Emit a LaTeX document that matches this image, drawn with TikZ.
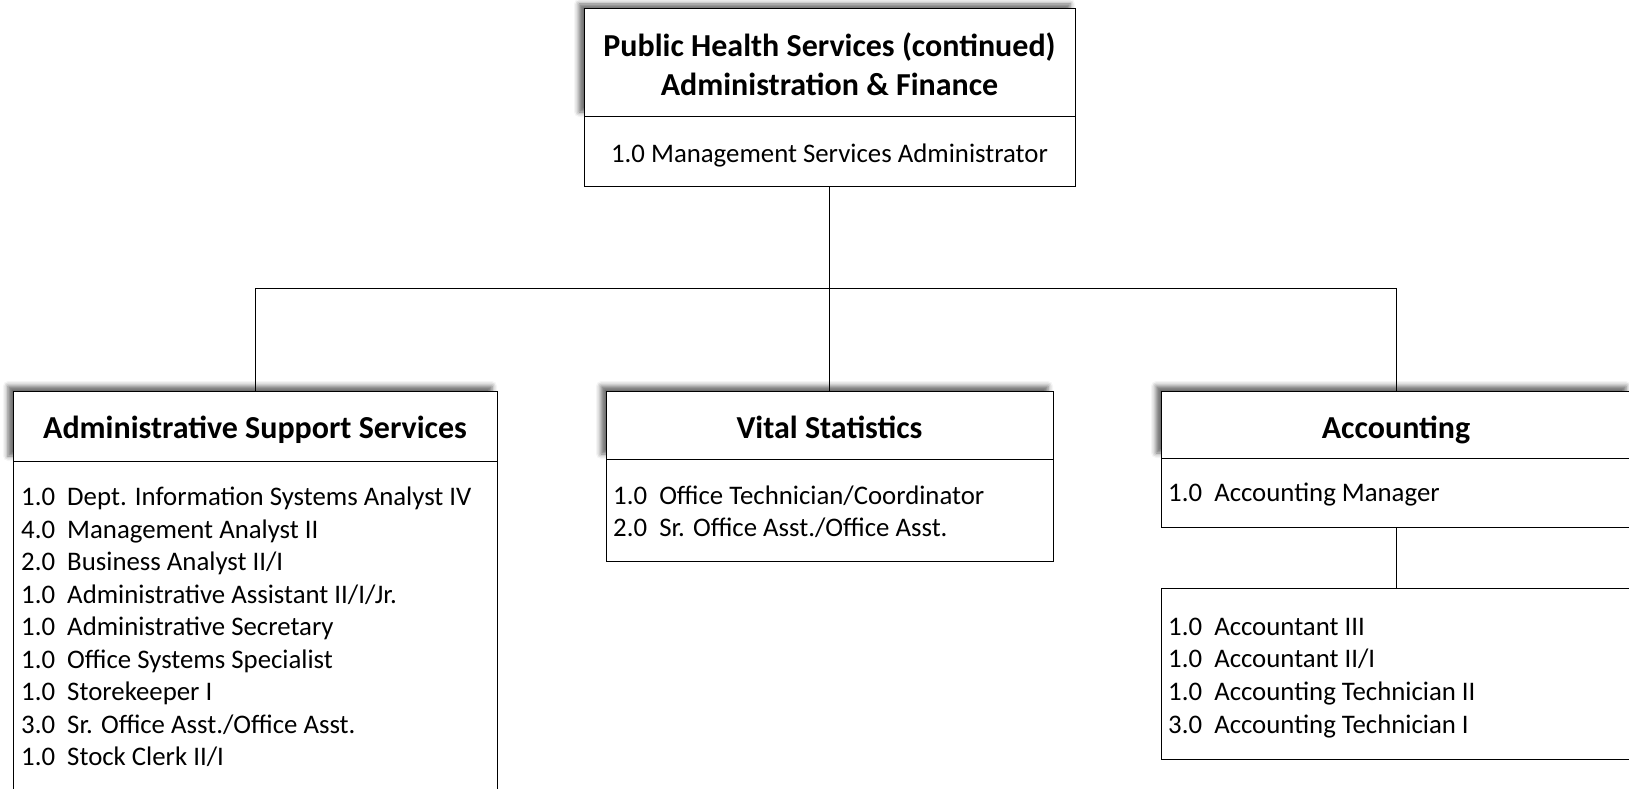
\documentclass[tikz,border=0pt]{standalone}
\usepackage{fontspec}
\setmainfont{Carlito}
\usetikzlibrary{shadows.blur}
\tikzset{
  box/.style={draw=black, line width=1pt, fill=white, inner sep=0pt, outer sep=0pt},
  titlebox/.style={box, blur shadow={shadow xshift=-5pt, shadow yshift=5pt, shadow blur radius=5pt, shadow opacity=60}},
  titletext/.style={font=\fontsize{32}{38}\selectfont\bfseries, anchor=base, inner sep=0pt},
  itemtext/.style={font=\fontsize{26.8}{32.5}\selectfont, anchor=base west, inner sep=0pt},
  conn/.style={draw=black, line width=1pt}
}
\begin{document}
\begin{tikzpicture}[x=1pt,y=-1pt]
\useasboundingbox (0,0) rectangle (1629,789);
% top box
\node[titlebox, minimum width=491pt, minimum height=108pt] (top) at (829.5,63) {};
\node[box, minimum width=491pt, minimum height=69pt, anchor=north] (topbody) at (top.south) {};
\node[titletext] (toptxta) at (829.5,56.8) {Public Health Services (continued)};
\node[titletext] (toptxtb) at (829.5,95.2) {Administration \& Finance};
\node[itemtext, anchor=base] (topitem) at (829.5,162.3) {1.0 Management Services Administrator};
% left
\node[titlebox, minimum width=484pt, minimum height=70pt] (ass) at (255,426) {};
\node[box, minimum width=484pt, minimum height=340pt, anchor=north] (assbody) at (ass.south) {};
\node[titletext] (asstxt) at (255,438.8) {Administrative Support Services};
\foreach \t [count=\i from 0] in {1.0\ \ Dept. Information Systems Analyst IV,
  4.0\ \ Management Analyst II,
  2.0\ \ Business Analyst II/I,
  1.0\ \ Administrative Assistant II/I/Jr.,
  1.0\ \ Administrative Secretary,
  1.0\ \ Office Systems Specialist,
  1.0\ \ Storekeeper I,
  3.0\ \ Sr. Office Asst./Office Asst.,
  1.0\ \ Stock Clerk II/I}
  \node[itemtext] (ass\i) at (21,505.6+32.5*\i) {\t};
% vital
\node[titlebox, minimum width=447pt, minimum height=68pt] (vs) at (829.5,425) {};
\node[box, minimum width=447pt, minimum height=102pt, anchor=north] (vsbody) at (vs.south) {};
\node[titletext] (vstxt) at (829.5,438.2) {Vital Statistics};
\node[itemtext] (vs0) at (613,504) {1.0\ \ Office Technician/Coordinator};
\node[itemtext] (vs1) at (613,536.1) {2.0\ \ Sr. Office Asst./Office Asst.};
% accounting
\node[titlebox, minimum width=470pt, minimum height=67pt] (acc) at (1396,424.5) {};
\node[box, minimum width=470pt, minimum height=69pt, anchor=north] (accbody) at (acc.south) {};
\node[box, minimum width=470pt, minimum height=171pt] (accstaff) at (1396,673.5) {};
\node[titletext] (acctxt) at (1396,438.2) {Accounting};
\node[itemtext] (accmgr) at (1168,501.3) {1.0\ \ Accounting Manager};
\foreach \t [count=\i from 0] in {1.0\ \ Accountant III,
  1.0\ \ Accountant II/I,
  1.0\ \ Accounting Technician II,
  3.0\ \ Accounting Technician I}
  \node[itemtext] (acc\i) at (1168,635.3+32.6*\i) {\t};
% connectors
\coordinate (bus) at (829.5,288);
\draw[conn] (topbody.south) -- (bus);
\draw[conn] (ass.north) -- (ass.north |- bus) -- (acc.north |- bus) -- (acc.north);
\draw[conn] (bus) -- (vs.north);
\draw[conn] (accbody.south) -- (accstaff.north);
\end{tikzpicture}
\end{document}
